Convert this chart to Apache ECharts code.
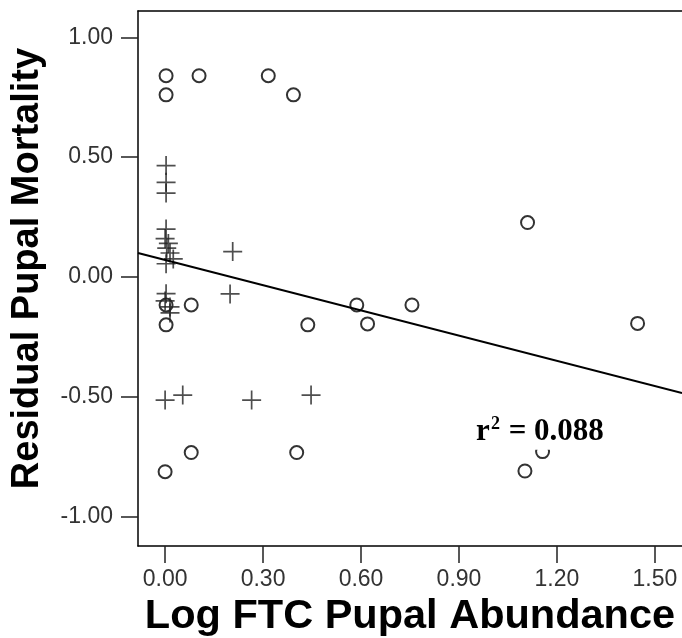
<!DOCTYPE html>
<html>
<head>
<meta charset="utf-8">
<script src="https://cdn.jsdelivr.net/npm/echarts@6/dist/echarts.min.js"></script>
<style>html,body{margin:0;padding:0;background:#fff}#c{width:682px;height:638px}</style>
</head>
<body>
<div id="c"></div>
<script>
// ---- data ----
const xTitle = 'Log FTC Pupal Abundance';
const yTitle = 'Residual Pupal Mortality';
const xTicks = [0, 0.3, 0.6, 0.9, 1.2, 1.5];
const yTicks = [-1, -0.5, 0, 0.5, 1];
const xRange = [-0.083, 1.583];
const yRange = [-1.123, 1.11];

// open circles
const circleX = [0.003, 0.104, 0.316, 0.003, 0.393, 1.110, 0.003, 0.080, 0.003, 0.437, 0.587, 0.620, 0.756, 0.080, 0.000, 0.403, 1.447, 1.102, 1.156];
const circleY = [0.84, 0.84, 0.84, 0.76, 0.76, 0.227, -0.117, -0.117, -0.20, -0.20, -0.117, -0.196, -0.117, -0.733, -0.813, -0.733, -0.194, -0.81, -0.729];

// plus markers
const plusX = [0.003, 0.003, 0.003, 0.003, 0.000, 0.010, 0.005, 0.015, 0.025, 0.003, 0.207, 0.003, 0.000, 0.015, 0.015, 0.199, 0.000, 0.054, 0.265, 0.447];
const plusY = [0.465, 0.395, 0.35, 0.20, 0.16, 0.14, 0.12, 0.10, 0.075, 0.055, 0.106, -0.07, -0.10, -0.125, -0.15, -0.071, -0.514, -0.493, -0.514, -0.493];

// regression line end points
const fitX = [-0.083, 1.583];
const fitY = [0.100, -0.485];

// annotation
const rSquaredText = '0.088';
const rLabelAt = [1.148, -0.65];

// ---- chart ----
const FONT = '"Liberation Sans", Arial, Helvetica, sans-serif';
const SERIF = '"Liberation Serif", "Times New Roman", serif';
const plusPath = 'path://M0,4.55H10V5.45H0Z M4.55,0H5.45V10H4.55Z';

const chart = echarts.init(document.getElementById('c'), null, {renderer: 'canvas'});
const option = {
  animation: false,
  backgroundColor: '#fff',
  grid: {left: 138, right: 0, top: 11, bottom: 92, containLabel: false, outerBoundsMode: 'none'},
  xAxis: [{
    type: 'value', min: xRange[0], max: xRange[1], position: 'bottom',
    axisLine: {show: true, onZero: false, lineStyle: {color: '#000', width: 1.5}},
    axisTick: {show: true, inside: false, length: 17, customValues: xTicks, lineStyle: {color: '#222', width: 1.5}},
    axisLabel: {customValues: xTicks, formatter: v => v.toFixed(2), fontFamily: FONT, fontSize: 23, color: '#333', margin: 22},
    splitLine: {show: false},
    name: xTitle, nameLocation: 'middle', nameGap: 44,
    nameTextStyle: {fontFamily: FONT, fontWeight: 'bold', fontSize: 41.5, color: '#000'}
  }, {
    type: 'value', min: xRange[0], max: xRange[1], position: 'top',
    axisLine: {show: true, onZero: false, lineStyle: {color: '#000', width: 1.5}},
    axisTick: {show: false}, axisLabel: {show: false}, splitLine: {show: false}
  }],
  yAxis: {
    type: 'value', min: yRange[0], max: yRange[1],
    axisLine: {show: true, onZero: false, lineStyle: {color: '#000', width: 1.5}},
    axisTick: {show: true, inside: false, length: 17, customValues: yTicks, lineStyle: {color: '#222', width: 1.5}},
    axisLabel: {customValues: yTicks, formatter: v => v.toFixed(2), fontFamily: FONT, fontSize: 23, color: '#333', margin: 25},
    splitLine: {show: false},
    name: yTitle, nameLocation: 'middle', nameGap: 91,
    nameTextStyle: {fontFamily: FONT, fontWeight: 'bold', fontSize: 38, color: '#000', padding: [0, 0, 0, 20]}
  },
  series: [{
    type: 'scatter', name: 'circles',
    data: circleX.map((x, i) => [x, circleY[i]]),
    symbol: 'emptyCircle', symbolSize: 13,
    itemStyle: {color: '#000', borderColor: '#000', borderWidth: 1.5},
    z: 2
  }, {
    type: 'scatter', name: 'plus',
    data: plusX.map((x, i) => [x, plusY[i]]),
    symbol: plusPath, symbolSize: 19,
    itemStyle: {color: '#222'},
    z: 3
  }, {
    type: 'line', name: 'fit',
    data: fitX.map((x, i) => [x, fitY[i]]),
    symbol: 'none', lineStyle: {color: '#000', width: 2},
    z: 4,
    markPoint: {
      symbol: 'circle', symbolSize: 1, itemStyle: {color: 'rgba(0,0,0,0)'},
      data: [{coord: rLabelAt}],
      label: {
        show: true, position: 'inside',
        formatter: '{r|r}{s|2}{r| = ' + rSquaredText + '}',
        backgroundColor: '#fff',
        padding: [0, 0, 2, 0],
        rich: {
          r: {fontFamily: SERIF, fontWeight: 'bold', fontSize: 31, color: '#000'},
          s: {fontFamily: SERIF, fontWeight: 'bold', fontSize: 18, color: '#000', padding: [0, 1, 14, 1]}
        }
      }
    }
  }]
};
chart.setOption(option);
</script>
</body>
</html>
